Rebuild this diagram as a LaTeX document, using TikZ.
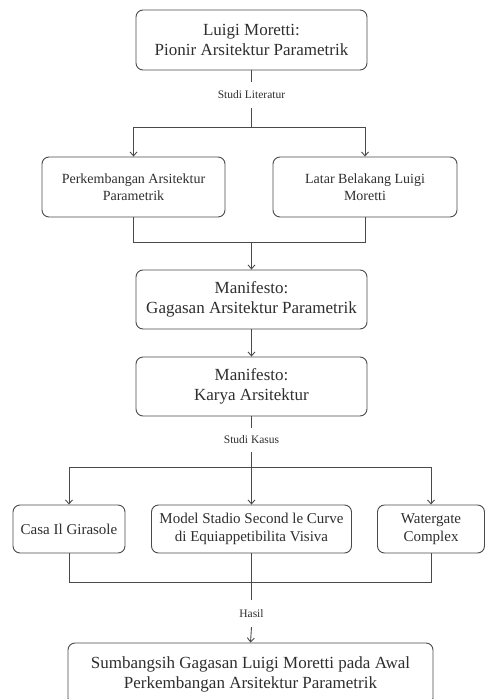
\documentclass[tikz,border=0pt]{standalone}
\usepackage{fontspec}
\setmainfont{Liberation Serif}
\usetikzlibrary{arrows.meta}
\definecolor{ln}{HTML}{4A4A4A}
\definecolor{tx}{HTML}{2E2E2E}
\tikzset{
  box/.style={draw=ln, line width=0.9pt, rounded corners=7pt, align=center, text=tx, inner sep=2pt},
  bigbox/.style={box, font=\fontsize{17}{20}\selectfont},
  midbox/.style={box, font=\fontsize{14}{17}\selectfont},
  casebox/.style={box, font=\fontsize{15}{18}\selectfont},
  lbl/.style={text=tx, font=\fontsize{11.5}{13}\selectfont, inner sep=0pt},
  con/.style={draw=ln, line width=0.9pt},
  arr/.style={con, -{Straight Barb[length=4pt,width=7pt]}},
}
\begin{document}
\begin{tikzpicture}[x=1pt,y=-1pt]
\useasboundingbox (0,0) rectangle (486,699);
\node[bigbox, minimum width=231pt, minimum height=60pt] (top) at (251.5,40) {Luigi Moretti:\\Pionir Arsitektur Parametrik};
\node[lbl, minimum height=26pt] (lit) at (251.5,95) {Studi Literatur};
\coordinate (j1) at (251.5,127);
\node[midbox, minimum width=183pt, minimum height=60pt] (l1) at (133.5,187) {Perkembangan Arsitektur\\Parametrik};
\node[midbox, minimum width=184pt, minimum height=60pt] (r1) at (365,187) {Latar Belakang Luigi\\Moretti};
\coordinate (j2) at (251.5,242);
\node[bigbox, minimum width=231pt, minimum height=59pt] (m1) at (251.5,299.5) {Manifesto:\\Gagasan Arsitektur Parametrik};
\node[bigbox, minimum width=231pt, minimum height=59pt] (m2) at (251.5,386.5) {Manifesto:\\Karya Arsitektur};
\node[lbl, minimum height=24pt] (kas) at (251.5,440) {Studi Kasus};
\coordinate (j3) at (251.5,467);
\node[casebox, minimum width=112pt, minimum height=48pt] (c1) at (69,529) {Casa Il Girasole};
\node[casebox, minimum width=200pt, minimum height=48pt] (c2) at (251.5,529) {Model Stadio Second le Curve\\di Equiappetibilita Visiva};
\node[casebox, minimum width=107pt, minimum height=48pt] (c3) at (431,529) {Watergate\\Complex};
\coordinate (j4) at (251.5,582);
\node[lbl, minimum height=27pt] (has) at (251.5,613.5) {Hasil};
\node[bigbox, minimum width=365pt, minimum height=62pt] (fin) at (250.5,674) {Sumbangsih Gagasan Luigi Moretti pada Awal\\Perkembangan Arsitektur Parametrik};
% connectors
\draw[con] (top.south) -- (lit.north);
\draw[con] (lit.south) -- (j1);
\draw[arr] (j1) -| (l1.north);
\draw[arr] (j1) -| (r1.north);
\draw[con] (l1.south) |- (j2);
\draw[con] (r1.south) |- (j2);
\draw[arr] (j2) -- (m1.north);
\draw[arr] (m1.south) -- (m2.north);
\draw[con] (m2.south) -- (kas.north);
\draw[con] (kas.south) -- (j3);
\draw[arr] (j3) -| (c1.north);
\draw[arr] (j3) -- (c2.north);
\draw[arr] (j3) -| (c3.north);
\draw[con] (c1.south) |- (j4);
\draw[con] (c3.south) |- (j4);
\draw[con] (c2.south) -- (has.north);
\draw[arr] (has.south) -- (fin.north);
\end{tikzpicture}
\end{document}
